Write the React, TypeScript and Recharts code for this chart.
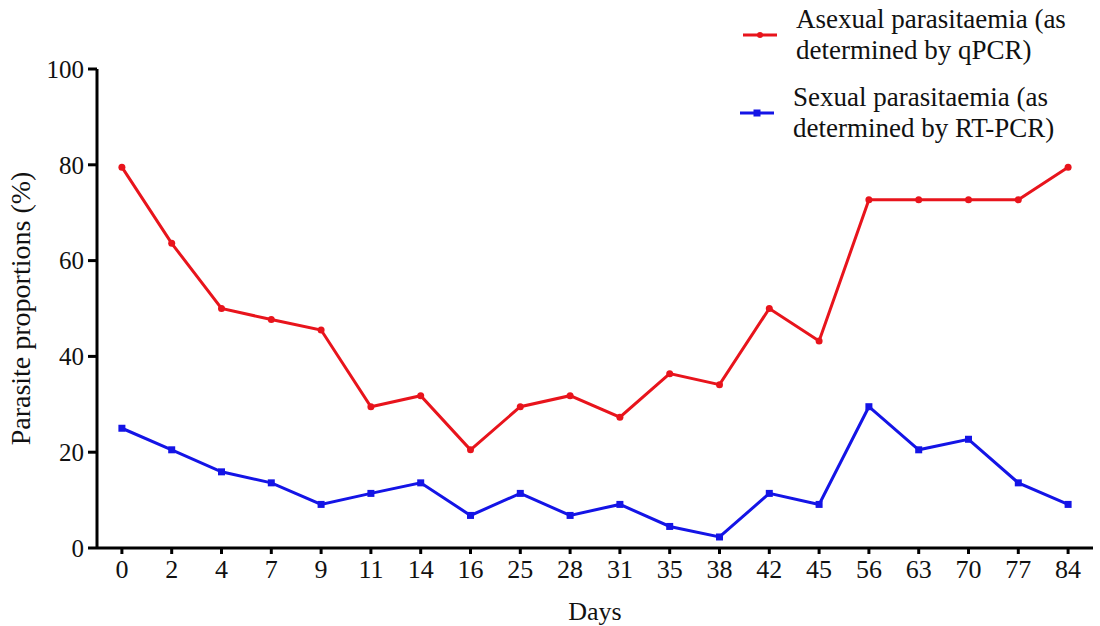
import React from "react";
import { LineChart, Line, XAxis, YAxis, Legend } from "recharts";

// Sampling days (categorical axis)
const days = ["0", "2", "4", "7", "9", "11", "14", "16", "25", "28", "31", "35", "38", "42", "45", "56", "63", "70", "77", "84"];

// % of participants positive, asexual stages (qPCR)
const asexual = [79.5, 63.6, 50.0, 47.7, 45.5, 29.5, 31.8, 20.5, 29.5, 31.8, 27.3, 36.4, 34.1, 50.0, 43.2, 72.7, 72.7, 72.7, 72.7, 79.5];

// % of participants positive, gametocytes (RT-PCR)
const sexual = [25.0, 20.5, 15.9, 13.6, 9.1, 11.4, 13.6, 6.8, 11.4, 6.8, 9.1, 4.5, 2.3, 11.4, 9.1, 29.5, 20.5, 22.7, 13.6, 9.1];

const yTicks = [0, 20, 40, 60, 80, 100];

const RED = "#e8141c";
const BLUE = "#1414e6";
const FONT = "'Liberation Serif', 'Times New Roman', serif";

const data = days.map((d, i) => ({ day: d, asexual: asexual[i], sexual: sexual[i] }));

const SquareDot = (props: any) => {
  const { cx, cy, stroke } = props;
  if (cx == null || cy == null) return null;
  return <rect x={cx - 3.5} y={cy - 3.5} width={7} height={7} fill={stroke} />;
};

const LegendContent = (props: any) => {
  const { payload } = props;
  return (
    <div style={{ fontFamily: FONT, fontSize: 27, color: "#111" }}>
      {payload.map((entry: any, i: number) => (
        <div key={i} style={{ display: "flex", alignItems: "center", marginBottom: 16, marginLeft: i === 0 ? 3 : 0 }}>
          <svg width={36} height={10} style={{ marginRight: 18, flex: "none" }}>
            <line x1={1} y1={5} x2={35} y2={5} stroke={entry.color} strokeWidth={3} />
            {i === 0 ? (
              <circle cx={18} cy={5} r={3} fill={entry.color} />
            ) : (
              <rect x={14.5} y={1.5} width={7} height={7} fill={entry.color} />
            )}
          </svg>
          <div style={{ whiteSpace: "pre-line", lineHeight: "31px" }}>{entry.value}</div>
        </div>
      ))}
    </div>
  );
};

export default function App() {
  return (
    <div style={{ position: "absolute", left: 0, top: 0, background: "#fff" }}>
      <LineChart
        width={1100}
        height={626}
        data={data}
        margin={{ top: 69, right: 7, left: 0, bottom: 0 }}
        style={{ fontFamily: FONT }}
      >
        <XAxis
          dataKey="day"
          scale="band"
          interval={0}
          height={78}
          tickSize={6}
          tickMargin={6}
          axisLine={{ stroke: "#000", strokeWidth: 3 }}
          tickLine={{ stroke: "#000", strokeWidth: 3 }}
          tick={{ fill: "#111", fontSize: 26, fontFamily: FONT }}
          label={{ value: "Days", position: "insideBottom", offset: 6, fill: "#111", fontSize: 26, fontFamily: FONT }}
        />
        <YAxis
          domain={[0, 100]}
          ticks={yTicks}
          width={97}
          tickSize={9}
          tickMargin={4}
          axisLine={{ stroke: "#000", strokeWidth: 3 }}
          tickLine={{ stroke: "#000", strokeWidth: 3 }}
          tick={{ fill: "#111", fontSize: 25, fontFamily: FONT }}
          label={{
            value: "Parasite proportions (%)",
            angle: -90,
            position: "insideLeft",
            offset: 14,
            dx: 6,
            fill: "#111",
            fontSize: 28,
            fontFamily: FONT,
            style: { textAnchor: "middle" },
          }}
        />
        <Legend
          verticalAlign="middle"
          align="center"
          layout="vertical"
          content={<LegendContent />}
          wrapperStyle={{ top: 4, left: 739, width: 360 }}
        />
        <Line
          name={"Asexual parasitaemia (as\ndetermined by qPCR)"}
          dataKey="asexual"
          stroke={RED}
          strokeWidth={3}
          dot={{ r: 3.5, fill: RED, stroke: RED, strokeWidth: 0 }}
          isAnimationActive={false}
        />
        <Line
          name={"Sexual parasitaemia (as\ndetermined by RT-PCR)"}
          dataKey="sexual"
          stroke={BLUE}
          strokeWidth={3}
          dot={<SquareDot />}
          isAnimationActive={false}
        />
      </LineChart>
    </div>
  );
}
